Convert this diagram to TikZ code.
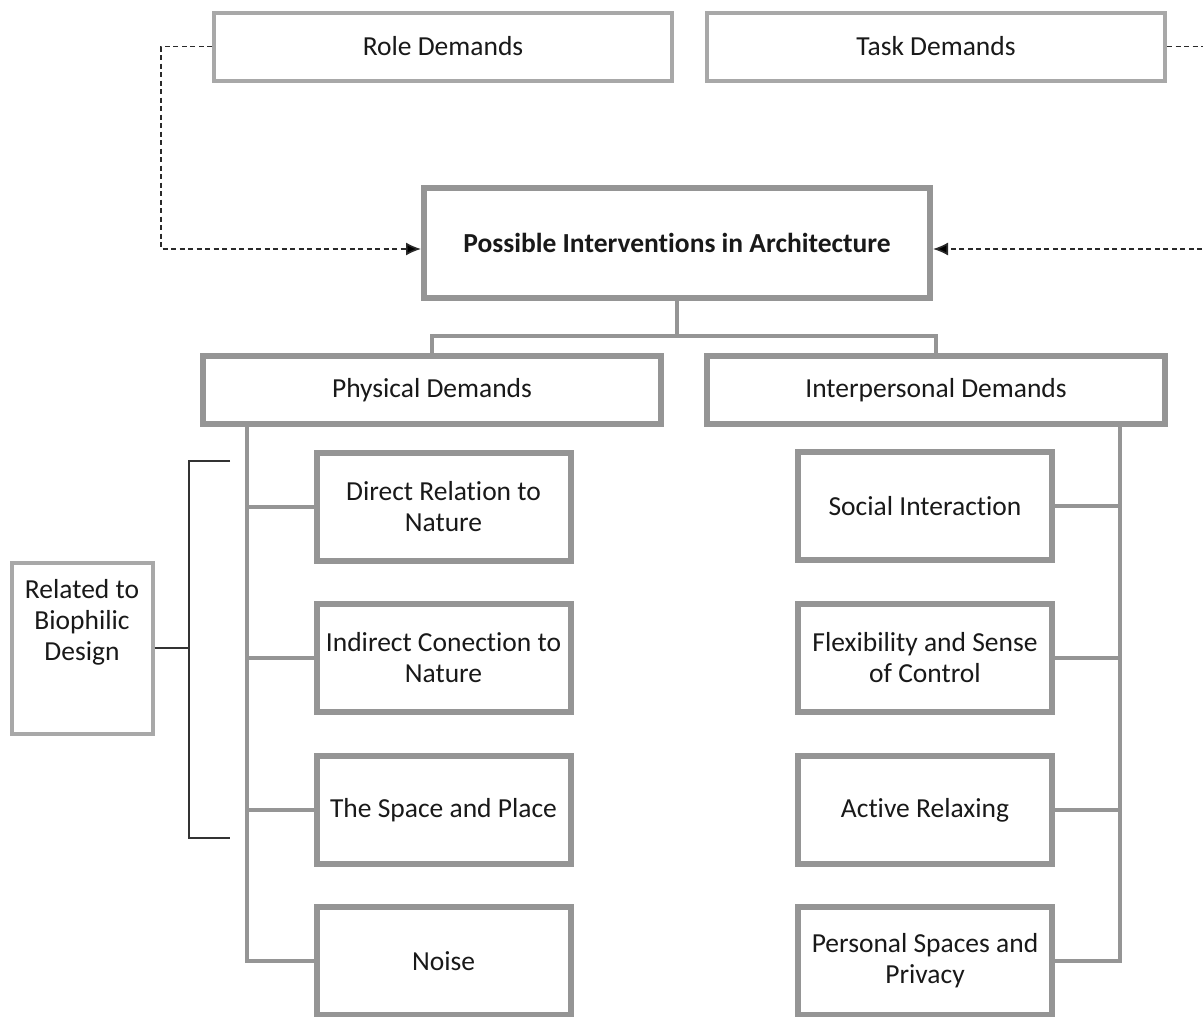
\documentclass[tikz,border=0pt]{standalone}
\usepackage{fontspec}
\setmainfont{Carlito}[RawFeature={-liga}]
\usetikzlibrary{arrows.meta,calc}
\definecolor{boxgray}{HTML}{959595}
\definecolor{lightgray}{HTML}{A8A8A8}
\definecolor{dashgray}{HTML}{2A2A2A}
\begin{document}
\begin{tikzpicture}[x=1pt,y=-1pt,
  every node/.style={font=\fontsize{27.5}{31}\selectfont, text=black!90, align=center, inner sep=0pt},
  topbox/.style={draw=lightgray, line width=4pt, fill=white, minimum width=458pt, minimum height=68pt},
  mainbox/.style={draw=boxgray, line width=6pt, fill=white},
  childbox/.style={mainbox, minimum width=254pt, minimum height=108pt},
  biobox/.style={draw=lightgray, line width=4pt, fill=white, minimum width=141pt, minimum height=171pt},
  conn/.style={draw=boxgray, line width=4.5pt},
  brack/.style={draw=black!80, line width=1.5pt},
  dashconn/.style={draw=dashgray, line width=1.6pt, dash pattern=on 5pt off 3.5pt, -{Latex[length=15pt,width=13pt,fill=black]}}
]
\useasboundingbox (0,0) rectangle (1203,1017);
\clip (0,0) rectangle (1203,1017);

% top boxes
\node[topbox] (role) at (443,46.5) {Role Demands};
\node[topbox] (task) at (936,46.5) {Task Demands};

% central box
\node[mainbox, minimum width=506pt, minimum height=110pt, font=\fontsize{27.5}{31}\selectfont\bfseries] (poss) at (677,243) {Possible Interventions in Architecture};

% second level
\node[mainbox, minimum width=458pt, minimum height=68pt] (phys) at (432,390) {Physical Demands};
\node[mainbox, minimum width=458pt, minimum height=68pt] (inter) at (936,390) {Interpersonal Demands};

% left children
\node[childbox] (dir) at (443.5,507) {Direct Relation to\\Nature};
\node[childbox] (ind) at (443.5,658) {Indirect Conection to\\Nature};
\node[childbox] (spa) at (443.5,810) {The Space and Place};
\node[childbox] (noi) at (443.5,961) {Noise};

% right children
\node[childbox] (soc) at (925,506) {Social Interaction};
\node[childbox] (flex) at (925,658) {Flexibility and Sense\\of Control};
\node[childbox] (act) at (925,810) {Active Relaxing};
\node[childbox] (pers) at (925,961) {Personal Spaces and\\Privacy};

% biophilic box
\node[biobox] (bio) at (82,648) {};
\node[anchor=north] (biotxt) at (82,579) {Related to\\Biophilic\\Design};

% coordinates
\coordinate (bar) at (677,336);
\coordinate (spL) at (247,0);
\coordinate (spR) at (1120,0);
\coordinate (dL) at (161,0);
\coordinate (dR) at (1215,0);
\coordinate (brX) at (189,0);
\coordinate (brT) at (230,461);
\coordinate (brB) at (230,838);

% tree connectors
\draw[conn] (poss.south) -- (bar);
\draw[conn] (phys.north) |- (bar) -| (inter.north);

\draw[conn] (spL |- phys.south) |- (noi.west);
\draw[conn] (spL |- dir.west) -- (dir.west);
\draw[conn] (spL |- ind.west) -- (ind.west);
\draw[conn] (spL |- spa.west) -- (spa.west);

\draw[conn] (spR |- inter.south) |- (pers.east);
\draw[conn] (spR |- soc.east) -- (soc.east);
\draw[conn] (spR |- flex.east) -- (flex.east);
\draw[conn] (spR |- act.east) -- (act.east);

% bracket
\draw[brack] (brT) -- (brX |- brT) -- (brX |- brB) -- (brB);
\draw[brack] (bio.east) -- (brX |- bio.east);

% dashed feedback
\draw[dashconn] (role.west) -| ([yshift=-6pt]dL |- poss.west) -- ([yshift=-6pt]poss.west);
\draw[dashconn] (task.east) -| ([yshift=-6pt]dR |- poss.west) -- ([yshift=-6pt]poss.east);
\end{tikzpicture}
\end{document}
